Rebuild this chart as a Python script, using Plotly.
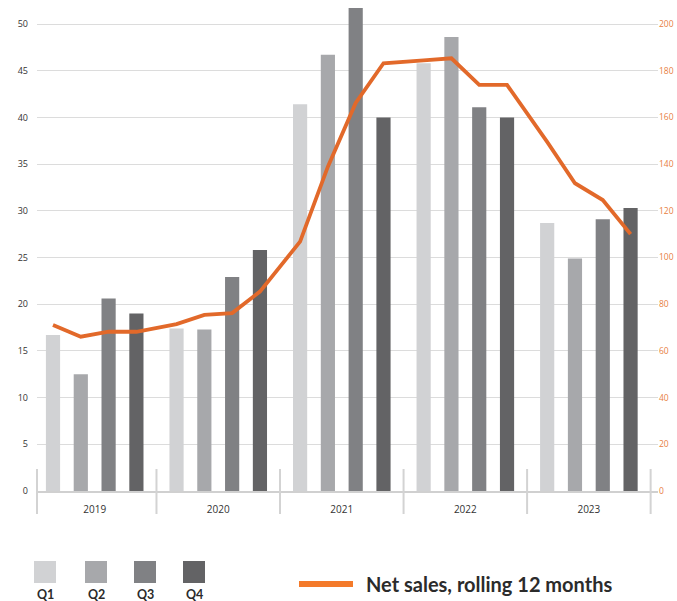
import plotly.graph_objects as go

# ---------------- data ----------------
years = ["2019", "2020", "2021", "2022", "2023"]
quarters = ["Q1", "Q2", "Q3", "Q4"]
q1_values = [16.7, 17.4, 41.4, 45.8, 28.7]
q2_values = [12.5, 17.3, 46.7, 48.6, 24.9]
q3_values = [20.6, 22.9, 51.7, 41.1, 29.1]
q4_values = [19.0, 25.8, 40.0, 40.0, 30.3]
rolling_12m = [71.1, 66.1, 68.2, 68.2,
               71.5, 75.4, 76.2, 85.4,
               106.8, 138.9, 166.2, 183.2,
               184.4, 185.3, 173.9, 173.9,
               149.5, 131.8, 124.6, 110.0]
left_ticks = list(range(0, 55, 5))
right_ticks = list(range(0, 220, 20))
line_name = "Net sales, rolling 12 months"

# ---------------- style ----------------
bar_colors = ["#d1d2d4", "#a7a8ab", "#808184", "#636365"]
line_color = "#e2692a"
legend_line_color = "#f47a2a"
axis_orange = "#e8803f"
text_dark = "#2b2b2b"
grid_color = "#dcdcdc"
GAP = 0.444          # extra space between year groups (in bar slots)
BAR_W = 0.51

def xpos(i, j):
    return i * (len(quarters) + GAP) + j

series = [q1_values, q2_values, q3_values, q4_values]

fig = go.Figure()
for j, (q, vals, col) in enumerate(zip(quarters, series, bar_colors)):
    fig.add_bar(x=[xpos(i, j) for i in range(len(years))], y=vals,
                marker=dict(color=col, line=dict(width=0)), width=BAR_W,
                name=q, showlegend=False, hoverinfo="skip")

line_x = [xpos(i, j) for i in range(len(years)) for j in range(len(quarters))]
fig.add_scatter(x=line_x, y=rolling_12m, yaxis="y2", mode="lines",
                line=dict(color=line_color, width=3.8), name=line_name,
                showlegend=False, hoverinfo="skip")

# plot geometry (pixels)
L_M, R_M, T_M, B_M = 37, 19, 5, 110
W, H = 677, 601
plot_w = W - L_M - R_M
plot_h = H - T_M - B_M
px_per_unit = 27.8
x_lo = -(53 - L_M) / px_per_unit
x_hi = x_lo + plot_w / px_per_unit
y_top = plot_h / (467 / 50)

shapes = []
half = (1 + GAP) / 2
sep_y0, sep_y1 = -23 / plot_h, 22 / plot_h
sep_style = dict(color="#d3d3d3", width=2)
shapes.append(dict(type="line", xref="paper", yref="paper", x0=0, x1=0,
                   y0=sep_y0, y1=sep_y1, line=sep_style))
for i in range(len(years)):
    xs = xpos(i, len(quarters) - 1) + half
    shapes.append(dict(type="line", xref="x", yref="paper", x0=xs, x1=xs,
                       y0=sep_y0, y1=sep_y1, line=sep_style))

# custom legend
annotations = []
def px_x(p):
    return (p - L_M) / plot_w
def px_y(p):
    return (T_M + plot_h - p) / plot_h

sq_left = [34, 85, 134, 183]
for q, col, xl in zip(quarters, bar_colors, sq_left):
    shapes.append(dict(type="rect", xref="paper", yref="paper",
                       x0=px_x(xl), x1=px_x(xl + 22), y0=px_y(561), y1=px_y(583),
                       fillcolor=col, line=dict(width=0)))
    annotations.append(dict(xref="paper", yref="paper", x=px_x(xl + 11), y=px_y(594),
                            text="<b>" + q + "</b>", showarrow=False,
                            xanchor="center", yanchor="middle",
                            font=dict(family="Lato", size=12.5, color=text_dark)))

shapes.append(dict(type="line", xref="paper", yref="paper",
                   x0=px_x(299), x1=px_x(353), y0=px_y(584), y1=px_y(584),
                   line=dict(color=legend_line_color, width=6)))
annotations.append(dict(xref="paper", yref="paper", x=px_x(364), y=px_y(584),
                        text="<b>" + line_name + "</b>", showarrow=False,
                        xanchor="left", yanchor="middle",
                        font=dict(family="Lato", size=20, color=text_dark)))

fig.update_layout(
    width=W, height=H,
    margin=dict(l=L_M, r=R_M, t=T_M, b=B_M, autoexpand=False),
    paper_bgcolor="white", plot_bgcolor="white",
    barmode="overlay",
    shapes=shapes, annotations=annotations,
    xaxis=dict(range=[x_lo, x_hi], automargin=False,
               tickmode="array",
               tickvals=[xpos(i, 1.5) for i in range(len(years))],
               ticktext=years, ticks="", showgrid=False, zeroline=False,
               showline=True, linecolor="#d0d0d0", linewidth=1.5,
               tickfont=dict(family="Open Sans", size=10, color="#333333"),
               ticklabelstandoff=8, fixedrange=True),
    yaxis=dict(range=[0, y_top], tickmode="array", tickvals=left_ticks,
               automargin=False,
               showgrid=True, gridcolor=grid_color, gridwidth=1,
               zeroline=False, showline=False, ticks="",
               tickfont=dict(family="Open Sans", size=9, color="#333333"),
               ticklabelstandoff=8),
    yaxis2=dict(range=[0, y_top * 4], overlaying="y", side="right",
                automargin=False,
                tickmode="array", tickvals=right_ticks,
                showgrid=False, zeroline=False, showline=False, ticks="",
                tickfont=dict(family="Open Sans", size=8.5, color=axis_orange),
                ticklabelstandoff=0),
)

fig.write_html("out.html")
